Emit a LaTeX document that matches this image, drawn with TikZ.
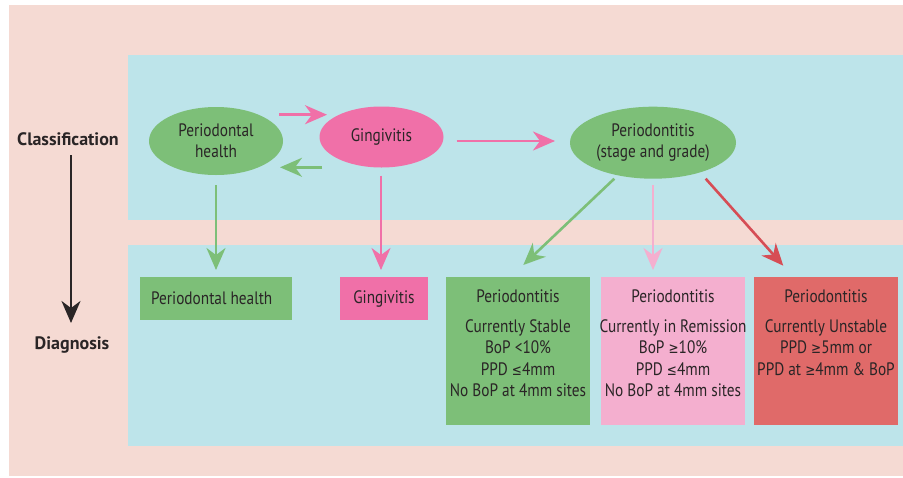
\documentclass[tikz,border=0pt]{standalone}
\usepackage{fontspec}
\setmainfont{PT Sans}[FakeStretch=0.85]
\newfontfamily\lblfont{PT Sans}
\newfontfamily\symf{DejaVu Sans}[FakeStretch=0.8]
\newcommand{\GEs}{{\symf\fontsize{15}{17}\selectfont ≥}}
\newcommand{\LEs}{{\symf\fontsize{15}{17}\selectfont ≤}}
\usetikzlibrary{shapes.geometric,arrows.meta}
\definecolor{bgpink}{HTML}{F5DAD3}
\definecolor{bgblue}{HTML}{BDE4EA}
\definecolor{cgreen}{HTML}{7DBF78}
\definecolor{cpink}{HTML}{F070A8}
\definecolor{clpink}{HTML}{F4AFCF}
\definecolor{cred}{HTML}{E06A69}
\definecolor{credarrow}{HTML}{D64D55}
\definecolor{ctext}{HTML}{2A2526}
\tikzset{
  ell/.style={ellipse, inner sep=0pt, text=ctext, align=center, font=\fontsize{18}{21}\selectfont},
  boxn/.style={rectangle, inner sep=0pt, text=ctext, font=\fontsize{18}{21.5}\selectfont},
  tipst/.style={-{Stealth[length=22pt,width=19pt,inset=7pt]}, line width=2.6pt},
  lbl/.style={font=\lblfont\bfseries\fontsize{18}{20}\selectfont, text=ctext}
}
\begin{document}
\begin{tikzpicture}[x=1pt,y=-1pt]
\useasboundingbox (0,0) rectangle (903,477);
\fill[white] (0,0) rectangle (903,477);
\fill[bgpink] (9,5) rectangle (903,476);
\fill[bgblue] (128,55) rectangle (903,220);
\fill[bgblue] (128,245) rectangle (903,446);

% labels
\node[lbl] (cls) at (68,139) {Classification};
\node[lbl] (dia) at (72,345) {Diagnosis};
\coordinate (ka) at (71,155);
\coordinate (kb) at (71,323);
\draw[tipst, ctext, line width=2.2pt] (ka) -- (kb);

% ellipses
\node[ell, fill=cgreen, minimum width=134pt, minimum height=68pt] (ph) at (216,141) {Periodontal\\health};
\node[ell, fill=cpink, minimum width=124pt, minimum height=61pt] (gi) at (381.5,137) {Gingivitis};
\node[ell, fill=cgreen, minimum width=166pt, minimum height=72pt] (pe) at (653,142.7) {Periodontitis\\(stage and grade)};

% boxes
\fill[cgreen] (140,277) rectangle (292,320);
\node[boxn, anchor=west] (bph) at (151,298.5) {Periodontal health};
\fill[cpink] (340,277) rectangle (428,320);
\node[boxn] (bgi) at (384,298.5) {Gingivitis};
\fill[cgreen] (446,277) rectangle (590,425);
\fill[clpink] (601,277) rectangle (745,425);
\fill[cred] (754,277) rectangle (898,425);
\node[boxn, align=center, anchor=north] (bst) at (518,290) {Periodontitis\\[8pt]Currently Stable\\BoP <10\%\\PPD \LEs4mm\\No BoP at 4mm sites};
\node[boxn, align=center, anchor=north] (bre) at (673,290) {Periodontitis\\[8pt]Currently in Remission\\BoP \GEs10\%\\PPD \LEs4mm\\No BoP at 4mm sites};
\node[boxn, align=center, anchor=north] (bun) at (826,290) {Periodontitis\\[8pt]Currently Unstable\\PPD \GEs5mm or\\PPD at \GEs4mm \& BoP};

% connectors
\coordinate (a1s) at (279,114.7); \coordinate (a1e) at (327,114.7);
\draw[tipst, cpink] (a1s) -- (a1e);
\coordinate (a2s) at (322,167.3); \coordinate (a2e) at (280,167.3);
\draw[tipst, cgreen] (a2s) -- (a2e);
\coordinate (a3s) at (456.7,141); \coordinate (a3e) at (555,141);
\draw[tipst, cpink] (a3s) -- (a3e);
\coordinate (d1s) at (216,185); \coordinate (d1e) at (216,270);
\draw[tipst, cgreen] (d1s) -- (d1e);
\coordinate (d2s) at (381,175.7); \coordinate (d2e) at (381,270);
\draw[tipst, cpink] (d2s) -- (d2e);
\coordinate (d3s) at (614.3,178.7); \coordinate (d3e) at (523.3,265);
\draw[tipst, cgreen] (d3s) -- (d3e);
\coordinate (d4s) at (653,185); \coordinate (d4e) at (653,270);
\draw[tipst, clpink] (d4s) -- (d4e);
\coordinate (d5s) at (705.7,178.7); \coordinate (d5e) at (783.3,265.7);
\draw[tipst, credarrow] (d5s) -- (d5e);
\end{tikzpicture}
\end{document}
